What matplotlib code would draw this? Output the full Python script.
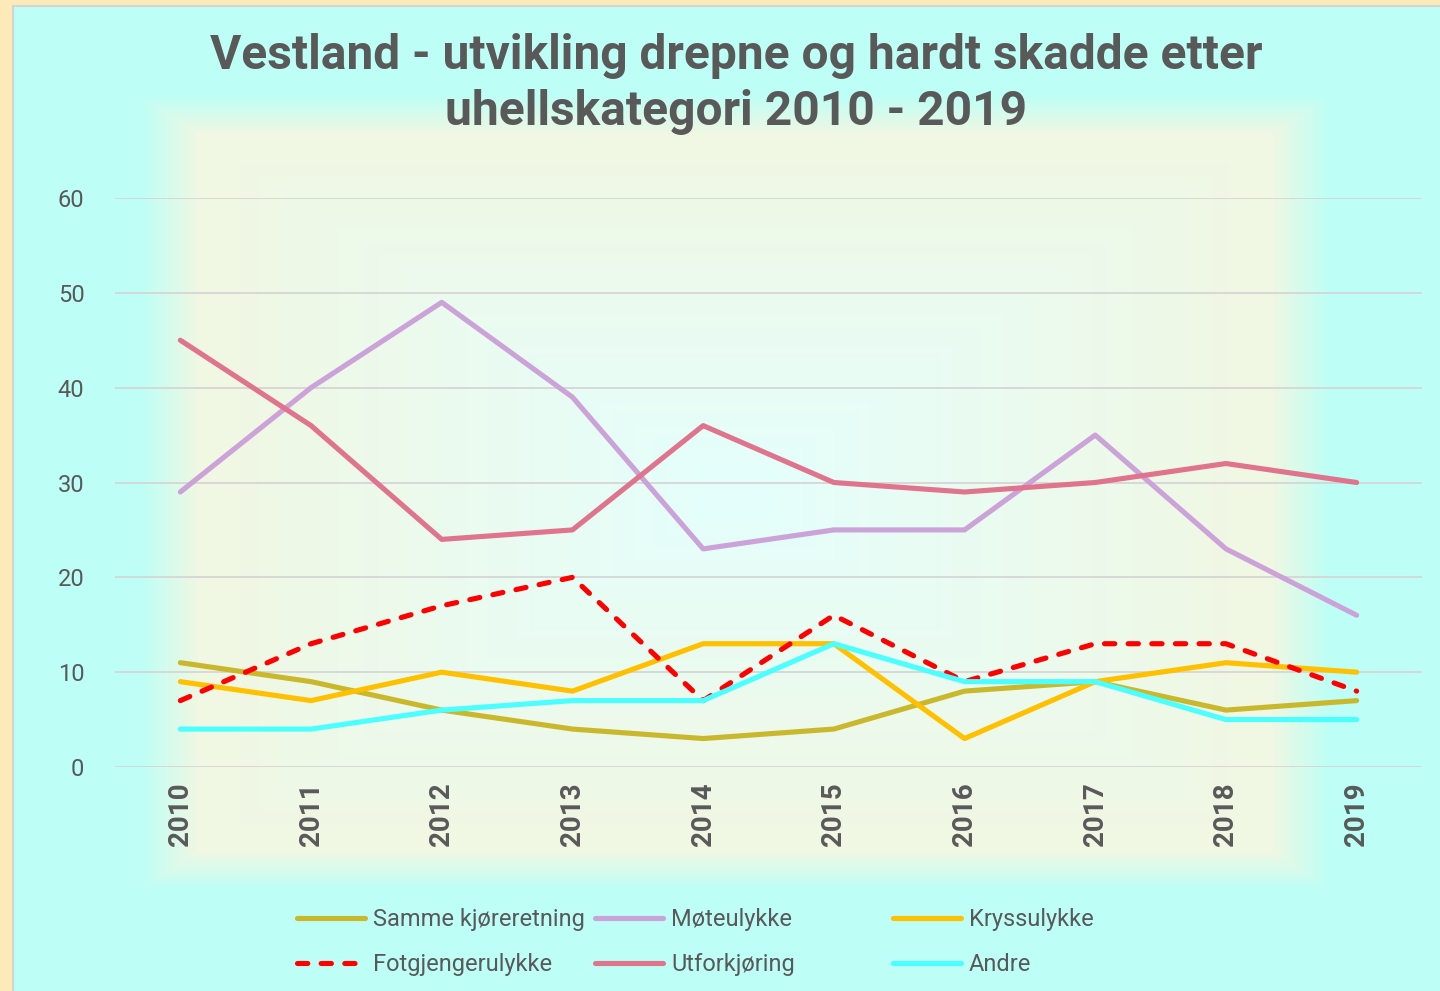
import numpy as np
import matplotlib
matplotlib.use("Agg")
import matplotlib.pyplot as plt
from matplotlib.colors import to_rgb
from matplotlib.lines import Line2D
from matplotlib.patches import Rectangle

plt.rcParams['font.family'] = ['Roboto', 'DejaVu Sans']

# data
years = [2010, 2011, 2012, 2013, 2014, 2015, 2016, 2017, 2018, 2019]
samme = [11, 9, 6, 4, 3, 4, 8, 9, 6, 7]
mote = [29, 40, 49, 39, 23, 25, 25, 35, 23, 16]
kryss = [9, 7, 10, 8, 13, 13, 3, 9, 11, 10]
fotgj = [7, 13, 17, 20, 7, 16, 9, 13, 13, 8]
utfor = [45, 36, 24, 25, 36, 30, 29, 30, 32, 30]
andre = [4, 4, 6, 7, 7, 13, 9, 9, 5, 5]
yticks = [0, 10, 20, 30, 40, 50, 60]

TXT = '#595959'
W, H = 1440, 991

fig = plt.figure(figsize=(14.4, 9.91), dpi=100)

# background with soft rectangular gradient
cyan = np.array(to_rgb('#BDFFF6'))
yel = np.array(to_rgb('#F1F7E2'))
ctr = np.array(to_rgb('#E4FFFD'))
xx, yy = np.meshgrid(np.arange(W) + 0.5, np.arange(H) + 0.5)
x0, x1, y0, y1 = 140, 1330, 95, 890
cx, cy = (x0 + x1) / 2, (y0 + y1) / 2
r = np.maximum(np.abs(xx - cx) / ((x1 - x0) / 2), np.abs(yy - cy) / ((y1 - y0) / 2))
t = np.clip(r / 0.9, 0, 1)[..., None]
img = ctr * (1 - t) + yel * t
s = np.clip((r - 0.9) / 0.1, 0, 1)[..., None]
img = img * (1 - s) + cyan * s
bg = fig.add_axes([0, 0, 1, 1], zorder=-5)
bg.imshow(img, aspect='auto', extent=(0, W, H, 0), interpolation='bilinear')
bg.set_xlim(0, W)
bg.set_ylim(H, 0)
bg.axis('off')

# outer frame
fig.patches.append(Rectangle((0, 0), 12 / W, 1, transform=fig.transFigure,
                             facecolor='#FCEBB9', edgecolor='none', zorder=-1))
fig.patches.append(Rectangle((0, 1 - 5 / H), 1, 5 / H, transform=fig.transFigure,
                             facecolor='#FCEBB9', edgecolor='none', zorder=-1))
fig.lines.append(Line2D([13 / W, 13 / W], [0, 1 - 6 / H], transform=fig.transFigure,
                        color='#D4D4D4', lw=1.5))
fig.lines.append(Line2D([13 / W, 1], [1 - 6 / H, 1 - 6 / H], transform=fig.transFigure,
                        color='#D4D4D4', lw=1.5))

ax = fig.add_axes([115 / W, 1 - 767 / H, 1307 / W, 569 / H])
ax.patch.set_alpha(0)

series = [
    ('Samme kjøreretning', samme, '#C9B82B', '-'),
    ('Møteulykke', mote, '#CCA3D8', '-'),
    ('Kryssulykke', kryss, '#FFC000', '-'),
    ('Fotgjengerulykke', fotgj, '#FF0000', '--'),
    ('Utforkjøring', utfor, '#E0748D', '-'),
    ('Andre', andre, '#4CFFFF', '-'),
]
handles = []
for name, vals, col, ls in series:
    if ls == '--':
        ln, = ax.plot(years, vals, color=col, lw=3.7, dashes=(2, 2.6),
                      dash_capstyle='round', solid_joinstyle='round', label=name)
    else:
        ln, = ax.plot(years, vals, color=col, lw=3.7, solid_capstyle='round',
                      solid_joinstyle='round', label=name)
    handles.append(ln)

ax.set_xlim(2009.5, 2019.5)
ax.set_ylim(0, 60)
ax.set_yticks(yticks)
ax.set_xticks(years)
ax.set_xticklabels([str(y) for y in years], rotation=90, fontsize=20,
                   fontweight='bold', color=TXT)
ax.tick_params(axis='x', length=0, pad=11)
ax.tick_params(axis='y', length=0, pad=22, labelsize=17, labelcolor=TXT)
ax.grid(axis='y', color='#D6D6D6', lw=1.3, zorder=0)
ax.set_axisbelow(True)
for sp in ax.spines.values():
    sp.set_visible(False)

fig.text(0.511, 1 - 84 / H, 'Vestland - utvikling drepne og hardt skadde etter\nuhellskategori 2010 - 2019',
         ha='center', va='center', fontsize=34.5, fontweight='bold', color=TXT, linespacing=1.26)

# legend in three columns
cols = [(297, [0, 3]), (595, [1, 4]), (893, [2, 5])]
for xpix, idx in cols:
    leg = fig.legend([handles[i] for i in idx], [series[i][0] for i in idx],
                     loc='upper left', bbox_to_anchor=(xpix / W, 1 - 908 / H),
                     frameon=False, fontsize=17, handlelength=2.88, handletextpad=0.34,
                     labelspacing=0.95, borderpad=0, borderaxespad=0, labelcolor=TXT)

fig.savefig('out.png', dpi=100)
